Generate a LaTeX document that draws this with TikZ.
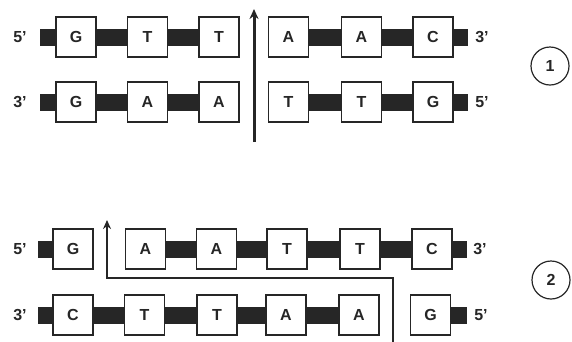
\documentclass[tikz,border=0pt]{standalone}
\usepackage{fontspec}
\setmainfont{Liberation Sans}
\usetikzlibrary{arrows.meta}
\definecolor{ink}{HTML}{262626}
\tikzset{
  base/.style={draw=ink, line width=1.6pt, fill=white, minimum width=40pt, minimum height=40pt, inner sep=0pt, text=ink, font=\fontsize{16}{16}\selectfont\bfseries},
  bar/.style={draw=ink, line width=17pt},
  endlab/.style={text=ink, font=\fontsize{16}{16}\selectfont\bfseries, inner sep=0pt},
  num/.style={draw=ink, circle, line width=1.2pt, minimum size=38pt, inner sep=0pt, text=ink, font=\fontsize{16}{16}\selectfont\bfseries},
  cut/.style={draw=ink, line width=3pt, -{Stealth[length=10pt,width=9pt]}},
  cutb/.style={draw=ink, line width=2.6pt, -{Stealth[length=9pt,width=8pt]}}
}
\begin{document}
\begin{tikzpicture}[x=1pt,y=-1pt]
\useasboundingbox (0,0) rectangle (572,341);
% ---------- Panel 1 ----------
\coordinate (s1a) at (40,37);
\coordinate (e1a) at (468,37);
\coordinate (s1b) at (40,102);
\coordinate (e1b) at (468,102);
\draw[bar] (s1a) -- (219,37);
\draw[bar] (288.5,37) -- (e1a);
\draw[bar] (s1b) -- (219,102);
\draw[bar] (288.5,102) -- (e1b);
\node[base] (a1) at (76,37) {G};
\node[base] (a2) at (147.5,37) {T};
\node[base] (a3) at (219,37) {T};
\node[base] (a4) at (288.5,37) {A};
\node[base] (a5) at (361.5,37) {A};
\node[base] (a6) at (433,37) {C};
\node[base] (b1) at (76,102) {G};
\node[base] (b2) at (147.5,102) {A};
\node[base] (b3) at (219,102) {A};
\node[base] (b4) at (288.5,102) {T};
\node[base] (b5) at (361.5,102) {T};
\node[base] (b6) at (433,102) {G};
\node[endlab] (l1a) at (20,37) {5'};
\node[endlab] (r1a) at (482,37) {3'};
\node[endlab] (l1b) at (20,102) {3'};
\node[endlab] (r1b) at (482,102) {5'};
\coordinate (c1s) at (254,142);
\coordinate (c1e) at (254,9);
\draw[cut] (c1s) -- (c1e);
\node[num] (n1) at (550,66) {1};
% ---------- Panel 2 ----------
\coordinate (s2a) at (38,249);
\coordinate (e2a) at (467,249);
\coordinate (s2b) at (38,315);
\coordinate (e2b) at (467,315);
\draw[bar] (s2a) -- (73,249);
\draw[bar] (145.5,249) -- (e2a);
\draw[bar] (s2b) -- (359,315);
\draw[bar] (430.5,315) -- (e2b);
\node[base] (c1) at (73,249) {G};
\node[base] (c2) at (145.5,249) {A};
\node[base] (c3) at (216.5,249) {A};
\node[base] (c4) at (287,249) {T};
\node[base] (c5) at (360,249) {T};
\node[base] (c6) at (432,249) {C};
\node[base] (d1) at (73,315) {C};
\node[base] (d2) at (144.5,315) {T};
\node[base] (d3) at (217,315) {T};
\node[base] (d4) at (286,315) {A};
\node[base] (d5) at (359,315) {A};
\node[base] (d6) at (430.5,315) {G};
\node[endlab] (l2a) at (20,249) {5'};
\node[endlab] (r2a) at (480,249) {3'};
\node[endlab] (l2b) at (20,315) {3'};
\node[endlab] (r2b) at (481,315) {5'};
\coordinate (c2s) at (393,345);
\coordinate (c2k) at (393,278);
\coordinate (c2j) at (107,278);
\coordinate (c2e) at (107,220);
\draw[cutb] (c2s) -- (c2k) -- (c2j) -- (c2e);
\node[num] (n2) at (551,280) {2};
\end{tikzpicture}
\end{document}
